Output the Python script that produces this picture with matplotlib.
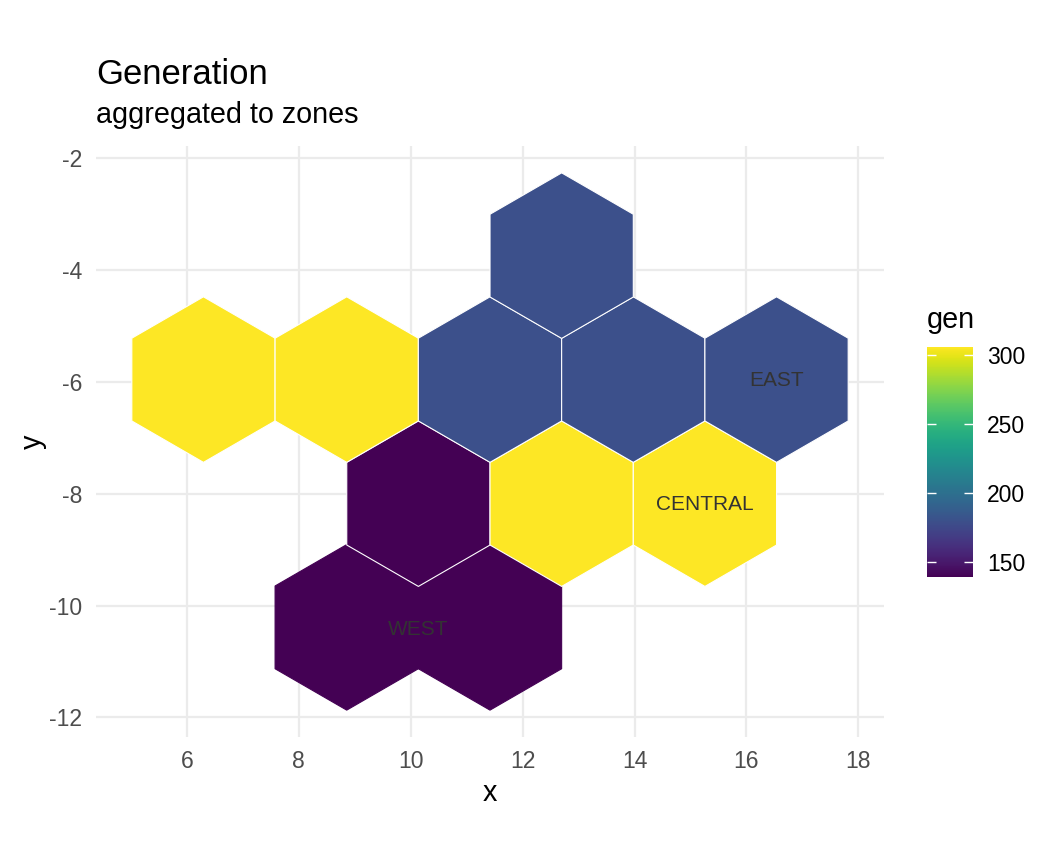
import numpy as np
import matplotlib
matplotlib.use("Agg")
import matplotlib.pyplot as plt
from matplotlib.patches import RegularPolygon
from matplotlib.collections import PatchCollection

plt.rcParams['font.family'] = ['Liberation Sans', 'DejaVu Sans']
plt.rcParams['axes.unicode_minus'] = False

# ---- data ----
hex_x = [8.856, 11.417, 10.137, 6.295, 8.856, 12.698, 15.259, 11.417, 13.978, 16.539, 12.698]
hex_y = [-10.39, -10.39, -8.18, -5.964, -5.964, -8.18, -8.18, -5.964, -5.964, -5.964, -3.75]
hex_zone = ["WEST", "WEST", "WEST", "CENTRAL", "CENTRAL", "CENTRAL", "CENTRAL",
            "EAST", "EAST", "EAST", "EAST"]
zone_names = ["WEST", "CENTRAL", "EAST"]
zone_gen = [138.9, 306.0, 180.0]
label_x = [10.13, 15.25, 16.54]
label_y = [-10.42, -8.2, -5.98]
hex_outline = [False, False, True, True, True, True, True, True, True, True, True]

gen_map = dict(zip(zone_names, zone_gen))
hex_gen = [gen_map[z] for z in hex_zone]

hex_width = 2.561
radius = hex_width / np.sqrt(3)

fig = plt.figure(figsize=(10.56, 8.64), dpi=100)
W, H = 1056, 864
ax = fig.add_axes([96 / W, 1 - 737 / H, 788 / W, 591 / H])

patches = [RegularPolygon((x, y), numVertices=6, radius=radius, orientation=0)
           for x, y in zip(hex_x, hex_y)]
pc = PatchCollection(patches, cmap='viridis', zorder=3)
pc.set_array(np.array(hex_gen))
pc.set_clim(min(zone_gen), max(zone_gen))
face_cols = [pc.cmap(pc.norm(v)) for v in hex_gen]
pc.set_edgecolor(['white' if o else c for o, c in zip(hex_outline, face_cols)])
pc.set_linewidths(0.8)
ax.add_collection(pc)

for name, lx, ly in zip(zone_names, label_x, label_y):
    ax.text(lx, ly, name, ha='center', va='center', fontsize=15, color='#333333', zorder=4)

# limits with 5% expansion
xmin, xmax = min(hex_x) - hex_width / 2, max(hex_x) + hex_width / 2
ymin, ymax = min(hex_y) - radius, max(hex_y) + radius
dx, dy = (xmax - xmin) * 0.05, (ymax - ymin) * 0.05
ax.set_xlim(xmin - dx, xmax + dx)
ax.set_ylim(ymin - dy, ymax + dy)
ax.set_aspect('equal', adjustable='datalim')

ax.set_xticks([6, 8, 10, 12, 14, 16, 18])
ax.set_yticks([-12, -10, -8, -6, -4, -2])
ax.grid(True, color='#EBEBEB', linewidth=1.6, zorder=0)
ax.set_axisbelow(True)
for s in ax.spines.values():
    s.set_visible(False)
ax.tick_params(length=0, labelsize=16.5, labelcolor='#4D4D4D')
ax.tick_params(axis='x', pad=9)
ax.tick_params(axis='y', pad=10)

ax.set_xlabel('x', fontsize=20.7, va='center')
ax.set_ylabel('y', fontsize=20.7, va='center')
ax.xaxis.set_label_coords(0.5, (737 - 793) / 591)
ax.yaxis.set_label_coords((33 - 96) / 788, 0.5)

fig.text(96 / W, 1 - 84 / H, 'Generation', fontsize=24.9, va='baseline', ha='left')
fig.text(96 / W, 1 - 123 / H, 'aggregated to zones', fontsize=20.7, va='baseline', ha='left')

# colorbar
cax = fig.add_axes([927 / W, 1 - 577.3 / H, 46 / W, 230.6 / H])
cb = fig.colorbar(pc, cax=cax)
cb.outline.set_visible(False)
cb.set_ticks([150, 200, 250, 300])
cax.minorticks_off()
cax.yaxis.set_ticks_position('both')
cax.tick_params(axis='y', direction='in', length=6.5, width=1.0, color='white',
                labelsize=16.5, labelcolor='black', pad=10, labelleft=False, labelright=True)
fig.text(927 / W, 1 - 328 / H, 'gen', fontsize=20.7, va='baseline', ha='left')

fig.savefig('out.png', dpi=100)
